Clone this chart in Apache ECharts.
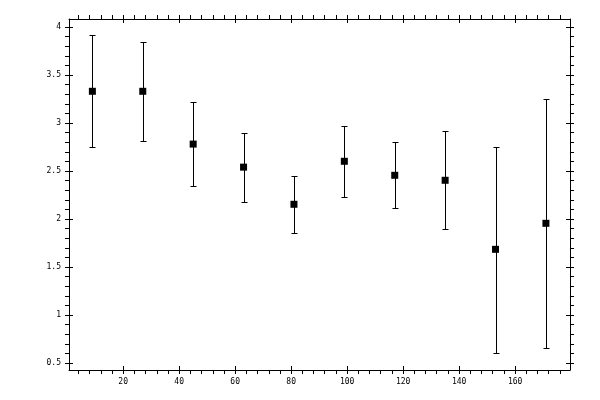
<!DOCTYPE html>
<html>
<head>
<meta charset="utf-8">
<script src="https://cdn.jsdelivr.net/npm/echarts@6/dist/echarts.min.js"></script>
<style>
html, body { margin: 0; padding: 0; background: #fff; }
#chart { width: 600px; height: 400px; }
</style>
</head>
<body>
<div id="chart"></div>
<script>
// bin centres and measured means with their error bounds
var xs = [9, 27, 45, 63, 81, 99, 117, 135, 153, 171];
var means = [3.33, 3.33, 2.78, 2.54, 2.153, 2.601, 2.455, 2.403, 1.684, 1.955];
var lows = [2.747, 2.81, 2.34, 2.174, 1.851, 2.226, 2.111, 1.893, 0.601, 0.653];
var highs = [3.917, 3.84, 3.215, 2.90, 2.451, 2.966, 2.806, 2.913, 2.753, 3.247];

var xMajor = [20, 40, 60, 80, 100, 120, 140, 160];
var xMinor = [4, 8, 12, 16, 20, 24, 28, 32, 36, 40, 44, 48, 52, 56, 60, 64, 68, 72, 76, 80,
    84, 88, 92, 96, 100, 104, 108, 112, 116, 120, 124, 128, 132, 136, 140, 144, 148, 152,
    156, 160, 164, 168, 172, 176];
var yMajor = [0.5, 1, 1.5, 2, 2.5, 3, 3.5, 4];
var yMinor = [0.5, 0.6, 0.7, 0.8, 0.9, 1, 1.1, 1.2, 1.3, 1.4, 1.5, 1.6, 1.7, 1.8, 1.9, 2,
    2.1, 2.2, 2.3, 2.4, 2.5, 2.6, 2.7, 2.8, 2.9, 3, 3.1, 3.2, 3.3, 3.4, 3.5, 3.6, 3.7, 3.8,
    3.9, 4];

var xRange = [0.65, 179.6];
var yRange = [0.427, 4.083];

var black = '#000';
var labelFont = {color: black, fontFamily: 'DejaVu Sans Mono', fontSize: 8};

function xAx(pos, inside, showLine, labels) {
    return {
        type: 'value', position: pos, min: xRange[0], max: xRange[1],
        axisLine: {show: showLine, onZero: false, lineStyle: {color: black, width: 1}},
        axisTick: {show: true, inside: inside, length: 4,
            customValues: inside ? xMajor : xMinor,
            lineStyle: {color: black, width: 1}},
        axisLabel: labels ? Object.assign({show: true, margin: 8, customValues: xMajor}, labelFont) : {show: false},
        splitLine: {show: false}
    };
}
function yAx(pos, inside, showLine, labels) {
    return {
        type: 'value', position: pos, min: yRange[0], max: yRange[1],
        axisLine: {show: showLine, onZero: false, lineStyle: {color: black, width: 1}},
        axisTick: {show: true, inside: inside, length: 4,
            customValues: inside ? yMajor : yMinor,
            lineStyle: {color: black, width: 1}},
        axisLabel: labels ? Object.assign({show: true, margin: 8, customValues: yMajor}, labelFont) : {show: false},
        splitLine: {show: false}
    };
}

var barData = [];
var pointData = [];
for (var i = 0; i < xs.length; i++) {
    barData.push([xs[i], lows[i], highs[i]]);
    pointData.push([xs[i], means[i]]);
}

var chart = echarts.init(document.getElementById('chart'));
chart.setOption({
    animation: false,
    backgroundColor: '#fff',
    grid: {left: 69, right: 30, top: 19, bottom: 30, containLabel: false},
    xAxis: [
        xAx('bottom', false, true, true),
        xAx('bottom', true, false, false),
        xAx('top', false, true, false),
        xAx('top', true, false, false)
    ],
    yAxis: [
        yAx('left', false, true, true),
        yAx('left', true, false, false),
        yAx('right', false, true, false),
        yAx('right', true, false, false)
    ],
    series: [
        {
            type: 'custom',
            xAxisIndex: 0,
            yAxisIndex: 0,
            data: barData,
            encode: {x: 0, y: [1, 2]},
            renderItem: function (params, api) {
                var top = api.coord([api.value(0), api.value(2)]);
                var bot = api.coord([api.value(0), api.value(1)]);
                var x = Math.round(top[0]) + 0.5;
                var y1 = Math.round(top[1]) + 0.5;
                var y2 = Math.round(bot[1]) + 0.5;
                var st = {stroke: black, lineWidth: 1};
                return {
                    type: 'group',
                    children: [
                        {type: 'line', shape: {x1: x, y1: y1, x2: x, y2: y2}, style: st},
                        {type: 'line', shape: {x1: x - 3, y1: y1, x2: x + 3, y2: y1}, style: st},
                        {type: 'line', shape: {x1: x - 3, y1: y2, x2: x + 3, y2: y2}, style: st}
                    ]
                };
            }
        },
        {
            type: 'scatter',
            xAxisIndex: 0,
            yAxisIndex: 0,
            symbol: 'rect',
            symbolSize: 7,
            itemStyle: {color: black, opacity: 1},
            data: pointData,
            z: 5
        }
    ]
});
</script>
</body>
</html>
